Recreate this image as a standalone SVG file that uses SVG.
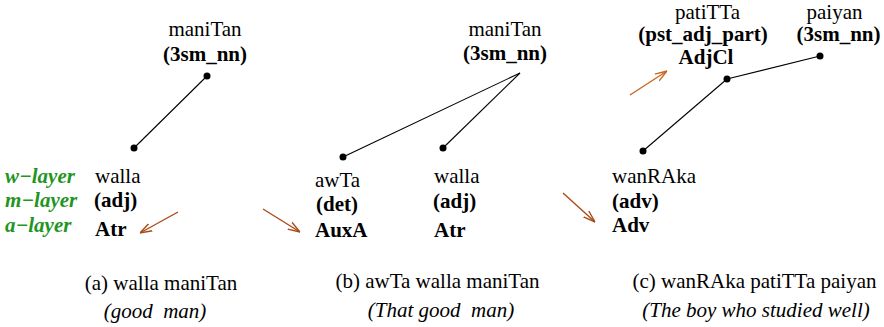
<svg xmlns="http://www.w3.org/2000/svg" width="884" height="327" viewBox="0 0 884 327">
<style>
text{font-family:'Liberation Serif','DejaVu Serif','Times New Roman',serif;font-size:21px;fill:#000}
.b{font-weight:bold}
.i{font-style:italic}
.m{text-anchor:middle}
.layer{font-weight:bold;font-style:italic;fill:#1f961f}
.edge{stroke:#000;stroke-width:1.1;fill:none}
.dot{fill:#000}
.arr{stroke:#a84b16;stroke-width:1.4;fill:none}
.arr2{stroke:#c8661e;stroke-width:1.4;fill:none}
</style>
<defs>
<marker id="ah" viewBox="0 0 12 10" refX="12" refY="5" markerWidth="12" markerHeight="10" markerUnits="userSpaceOnUse" orient="auto">
<path d="M0,1 L12,5 L0,9" fill="none" stroke="#a84b16" stroke-width="1.4"/>
</marker>
<marker id="ah2" viewBox="0 0 12 10" refX="12" refY="5" markerWidth="12" markerHeight="10" markerUnits="userSpaceOnUse" orient="auto">
<path d="M0,1 L12,5 L0,9" fill="none" stroke="#c8661e" stroke-width="1.4"/>
</marker>
</defs>

<g id="layers">
<text class="layer" x="5" y="183">w−layer</text>
<text class="layer" x="5" y="207">m−layer</text>
<text class="layer" x="5" y="232">a−layer</text>
</g>

<g id="connectors">
<line class="edge" x1="207" y1="76" x2="134" y2="148"/>
<line class="edge" x1="520" y1="73" x2="343" y2="157"/>
<line class="edge" x1="520" y1="73" x2="443" y2="148"/>
<line class="edge" x1="820" y1="56" x2="727" y2="79"/>
<line class="edge" x1="727" y1="79" x2="643" y2="151"/>
<line class="arr" x1="178" y1="212" x2="140" y2="233" marker-end="url(#ah)"/>
<line class="arr" x1="263" y1="209" x2="300" y2="232" marker-end="url(#ah)"/>
<line class="arr" x1="563" y1="193" x2="595" y2="222" marker-end="url(#ah)"/>
<line class="arr2" x1="630" y1="95" x2="667" y2="71" marker-end="url(#ah2)"/>
</g>

<g id="a_maniTan">
<circle class="dot" cx="207" cy="76" r="3.5"/>
<text class="m" x="205" y="36">maniTan</text>
<text class="m b" x="205" y="61">(3sm_nn)</text>
</g>
<g id="a_walla">
<circle class="dot" cx="134" cy="148" r="3.5"/>
<text x="95" y="183">walla</text>
<text class="b" x="94" y="207">(adj)</text>
<text class="b" x="95" y="236">Atr</text>
</g>
<g id="a_caption">
<text class="m" x="161" y="290">(a) walla maniTan</text>
<text class="m i" x="155" y="318" xml:space="preserve">(good  man)</text>
</g>

<g id="b_maniTan">
<text class="m" x="505" y="36">maniTan</text>
<text class="m b" x="505" y="60">(3sm_nn)</text>
</g>
<g id="b_awTa">
<circle class="dot" cx="343" cy="157" r="3.5"/>
<text x="315" y="187">awTa</text>
<text class="b" x="316" y="211">(det)</text>
<text class="b" x="315" y="237">AuxA</text>
</g>
<g id="b_walla">
<circle class="dot" cx="443" cy="148" r="3.5"/>
<text x="434" y="183">walla</text>
<text class="b" x="433" y="208">(adj)</text>
<text class="b" x="434" y="237">Atr</text>
</g>
<g id="b_caption">
<text class="m" x="437.5" y="288">(b) awTa walla maniTan</text>
<text class="m i" x="441" y="317" xml:space="preserve">(That good  man)</text>
</g>

<g id="c_patiTTa">
<circle class="dot" cx="727" cy="79" r="3.5"/>
<text class="m" x="707.5" y="19">patiTTa</text>
<text class="m b" x="703" y="41">(pst_adj_part)</text>
<text class="m b" x="706" y="64">AdjCl</text>
</g>
<g id="c_paiyan">
<circle class="dot" cx="820" cy="56" r="3.5"/>
<text class="m" x="834.5" y="19">paiyan</text>
<text class="m b" x="838.5" y="41">(3sm_nn)</text>
</g>
<g id="c_wanRAka">
<circle class="dot" cx="643" cy="151" r="3.5"/>
<text x="612" y="183">wanRAka</text>
<text class="b" x="612" y="208">(adv)</text>
<text class="b" x="612" y="232">Adv</text>
</g>
<g id="c_caption">
<text class="m" x="754.5" y="288">(c) wanRAka patiTTa paiyan</text>
<text class="m i" x="756" y="317">(The boy who studied well)</text>
</g>
</svg>
